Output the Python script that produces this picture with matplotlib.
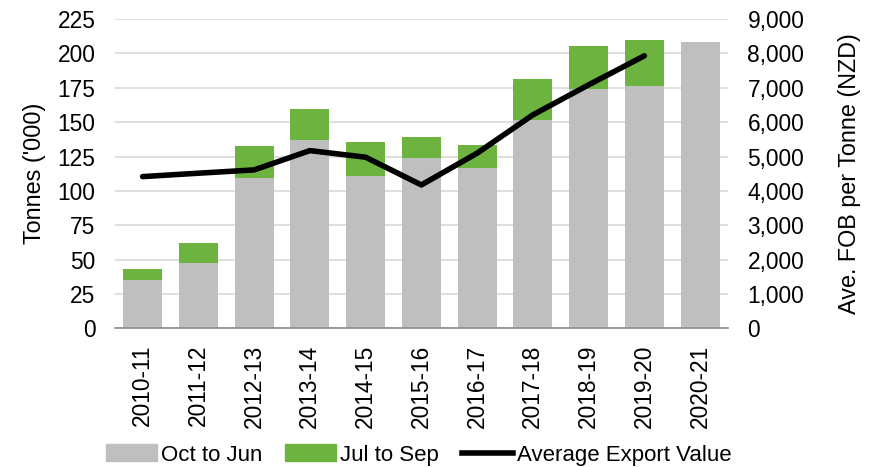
import matplotlib
matplotlib.use("Agg")
import matplotlib.pyplot as plt
from matplotlib.ticker import FuncFormatter
from matplotlib.patches import Patch
from matplotlib.lines import Line2D

categories = ["2010-11", "2011-12", "2012-13", "2013-14", "2014-15", "2015-16",
              "2016-17", "2017-18", "2018-19", "2019-20", "2020-21"]
oct_to_jun = [35.2, 47.5, 109.2, 137.1, 111.1, 124.0, 116.7, 151.7, 174.3, 176.2, 208.3]
jul_to_sep = [8.0, 14.4, 23.5, 22.8, 24.6, 15.1, 16.5, 29.6, 31.3, 33.5, 0.0]
avg_value = [4416, 4515, 4611, 5173, 4981, 4174, 5098, 6213, 7087, 7932]

FAM = ['Liberation Sans', 'DejaVu Sans']
plt.rcParams['font.family'] = FAM

fig = plt.figure(figsize=(8.76, 4.67), dpi=100)
ax = fig.add_axes([0.131, 0.297, 0.700, 0.662])
x = list(range(len(categories)))
gray = '#bfbfbf'
green = '#6db33f'
ax.bar(x, oct_to_jun, width=0.7, color=gray, zorder=2)
ax.bar(x, jul_to_sep, width=0.7, bottom=oct_to_jun, color=green, zorder=2)
ax.set_ylim(0, 225)
ax.set_yticks(range(0, 226, 25))
ax.set_xlim(-0.5, len(categories) - 0.5)
ax.set_xticks(x)
ax.set_xticklabels(categories, rotation=90, fontsize=16.4)
ax.tick_params(axis='both', length=0, labelsize=16.4)
ax.tick_params(axis='y', pad=14)
ax.tick_params(axis='x', pad=12)
ax.grid(axis='y', color='#d9d9d9', linewidth=1.2, zorder=0)
for s in ['top', 'right', 'left']:
    ax.spines[s].set_visible(False)
ax.spines['bottom'].set_color('#8c8c8c')
ax.spines['bottom'].set_linewidth(1.2)
ax.spines['bottom'].set_zorder(3)
ax.set_ylabel("Tonnes ('000)", fontsize=16.8, labelpad=8)

ax2 = ax.twinx()
ax2.plot(x[:len(avg_value)], avg_value, color='black', linewidth=4, solid_capstyle='round', zorder=5)
ax2.set_ylim(0, 9000)
ax2.set_yticks(range(0, 9001, 1000))
ax2.yaxis.set_major_formatter(FuncFormatter(lambda v, p: f"{int(v):,}"))
ax2.tick_params(axis='y', length=0, labelsize=16.4, pad=14)
for s in ['top', 'right', 'left', 'bottom']:
    ax2.spines[s].set_visible(False)
ax2.set_ylabel("Ave. FOB per Tonne (NZD)", fontsize=16.8, labelpad=24)

handles = [Patch(color=gray, label='Oct to Jun'),
           Patch(color=green, label='Jul to Sep'),
           Line2D([0], [0], color='black', linewidth=4, label='Average Export Value')]
fig.legend(handles=handles, loc='lower center', bbox_to_anchor=(0.478, -0.04), ncol=3,
           frameon=False, fontsize=16,
           handlelength=2.3, handleheight=0.8, columnspacing=1.0, handletextpad=0.2)

fig.savefig('out.png', dpi=100)
